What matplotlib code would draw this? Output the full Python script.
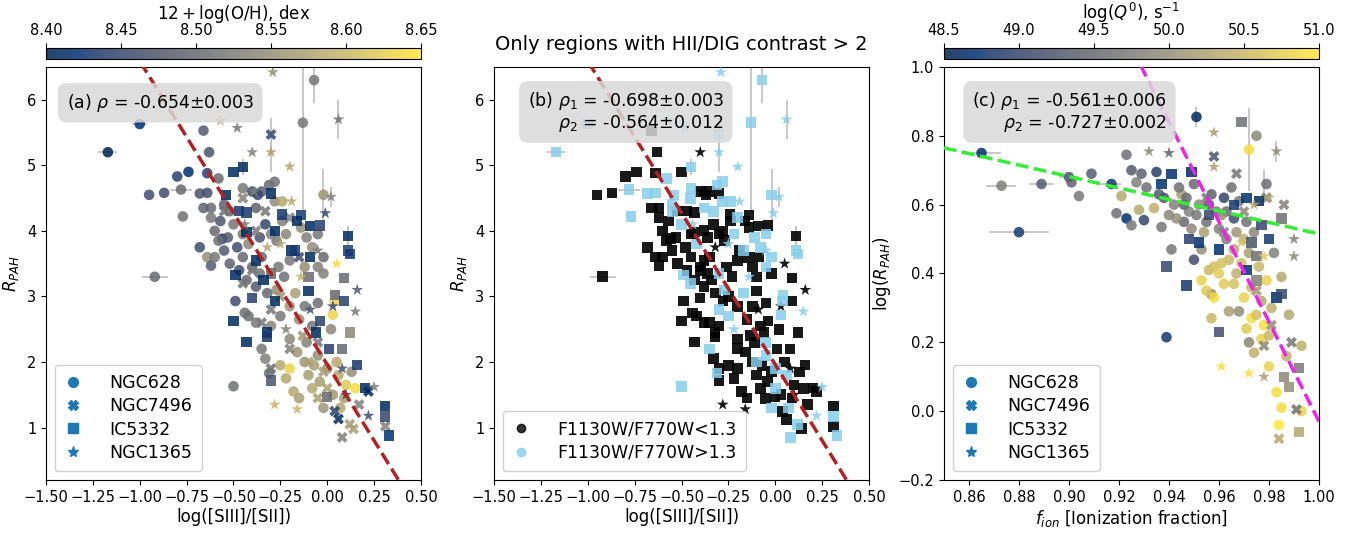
import numpy as np
import matplotlib
matplotlib.use("Agg")
import matplotlib.pyplot as plt
from matplotlib.lines import Line2D
from matplotlib.ticker import MultipleLocator

# ---------------- panel (a)/(b) data: log([SIII]/[SII]), R_PAH, 12+log(O/H), F1130W/F770W>1.3 flag
n628 = [(-1.17,5.20,8.40,1),(-1.00,5.63,8.42,1),(-0.92,3.30,8.50,0),(-0.95,4.55,8.46,0),
        (-0.87,4.58,8.46,0),(-0.80,4.83,8.44,0),(-0.74,4.90,8.42,0),(-0.78,4.63,8.50,1),
        (-0.77,4.22,8.51,1),(-0.66,5.53,8.48,0),(-0.63,5.20,8.47,0),(-0.64,4.88,8.44,0),
        (-0.68,4.57,8.47,1),(-0.64,4.58,8.46,1),(-0.62,4.35,8.50,0),(-0.66,4.35,8.49,0),
        (-0.62,4.20,8.52,0),(-0.58,4.80,8.50,1),(-0.60,4.00,8.50,0),(-0.56,3.88,8.43,0),
        (-0.68,3.75,8.46,0),(-0.64,3.60,8.55,0),(-0.62,3.47,8.48,0),(-0.60,3.60,8.52,0),
        (-0.55,3.70,8.48,0),(-0.50,1.63,8.51,1),(-0.49,2.93,8.46,0),(-0.31,1.83,8.51,1),
        (-0.07,6.30,8.52,1),(-0.13,5.65,8.52,1),(-0.02,4.55,8.56,1),(-0.55,4.40,8.49,1),
        (-0.52,4.30,8.50,0),(-0.57,4.15,8.47,0),(-0.50,4.10,8.52,1),(-0.53,3.90,8.48,0),
        (-0.48,3.75,8.46,0),(-0.45,3.95,8.52,0),(-0.42,3.80,8.54,1),(-0.45,3.60,8.50,0),
        (-0.40,3.45,8.51,0),(-0.35,3.60,8.50,0),(-0.36,3.90,8.47,0),(-0.33,4.10,8.45,0),
        (-0.38,4.35,8.49,1),(-0.35,4.60,8.48,0),(-0.31,4.70,8.50,1),(-0.28,4.45,8.55,1),
        (-0.24,4.45,8.58,1),(-0.27,3.85,8.52,0),(-0.22,3.95,8.54,1),(-0.20,3.55,8.52,0),
        (-0.23,3.30,8.51,0),(-0.27,3.10,8.55,1),(-0.32,3.05,8.50,0),(-0.38,3.15,8.48,0),
        (-0.43,3.25,8.50,0),(-0.47,3.40,8.46,0),(-0.44,2.75,8.51,0),(-0.38,2.60,8.52,0),
        (-0.35,2.20,8.52,1),(-0.33,2.05,8.53,0),(-0.42,2.70,8.51,0),(-0.25,2.70,8.52,1),
        (-0.20,2.85,8.56,0),(-0.17,3.05,8.57,1),(-0.15,2.65,8.55,0),(-0.20,2.35,8.54,0),
        (-0.25,1.95,8.58,0),(-0.22,1.75,8.58,0),(-0.18,1.55,8.58,0),(-0.20,1.90,8.63,0),
        (-0.12,2.00,8.56,0),(-0.10,1.80,8.57,0),(-0.08,1.60,8.58,0),(-0.05,2.10,8.55,1),
        (-0.04,1.70,8.57,0),(-0.11,2.30,8.53,0),(-0.08,2.55,8.52,0),(-0.12,2.85,8.52,0),
        (-0.05,2.90,8.51,0),(0.03,2.72,8.63,1),(0.04,2.93,8.63,1),(0.02,2.50,8.54,0),
        (0.05,2.00,8.58,0),(0.06,1.80,8.58,1),(0.10,1.65,8.62,0),(0.07,1.30,8.58,1),
        (0.03,1.50,8.56,0),(0.13,1.85,8.55,0),(0.15,1.60,8.64,0),(-0.02,1.30,8.56,1),
        (-0.15,1.45,8.57,0),(-0.02,3.35,8.53,0),(-0.05,3.45,8.53,1),(-0.08,3.75,8.55,1),
        (-0.11,3.90,8.53,1),(-0.14,4.05,8.55,0),(-0.05,3.95,8.52,1),(-0.02,3.60,8.50,1),
        (-0.12,3.45,8.55,0),(-0.45,4.65,8.52,1),(-0.40,4.60,8.46,0),(-0.28,4.75,8.51,1),
        (-0.37,4.55,8.45,0),(-0.24,4.15,8.53,0),(-0.30,3.95,8.53,0),(-0.26,3.45,8.52,0),
        (-0.36,3.35,8.51,0),(-0.30,2.55,8.54,0),(-0.16,2.15,8.56,0),(-0.07,1.95,8.57,0),
        (0.00,1.90,8.56,1),(0.09,1.45,8.57,0),(-0.52,3.50,8.49,0),(-0.58,3.85,8.51,0)]
n7496 = [(-0.30,5.47,8.45,1),(0.31,1.02,8.53,0),(0.06,1.13,8.41,0),(0.22,1.55,8.41,0),
         (0.14,0.98,8.57,0),(0.08,0.85,8.53,1),(0.12,1.05,8.57,1),(-0.05,1.45,8.57,0),
         (-0.02,1.85,8.57,0),(-0.20,2.20,8.53,0),(-0.35,2.60,8.52,0),(-0.30,2.80,8.52,1),
         (-0.40,3.40,8.52,0),(-0.45,3.20,8.51,1),(-0.25,3.00,8.56,0),(-0.13,2.40,8.56,0),
         (-0.10,2.00,8.57,1),(-0.33,4.30,8.52,1),(-0.38,4.00,8.52,0),(-0.55,4.30,8.51,1),
         (-0.45,4.50,8.53,1),(-0.30,1.90,8.51,0),(-0.05,2.30,8.52,1),(0.00,1.60,8.57,1),
         (0.17,1.35,8.53,0),(-0.15,3.60,8.46,0),(-0.20,4.20,8.53,1),(0.04,1.25,8.44,0)]
ic5332 = [(-0.45,4.97,8.41,1),(-0.50,4.90,8.41,0),(-0.54,4.55,8.41,1),(-0.30,4.57,8.41,0),
          (-0.47,4.30,8.43,0),(-0.43,4.28,8.43,0),(-0.24,4.25,8.43,0),(-0.14,4.24,8.43,0),
          (-0.16,4.15,8.41,0),(-0.09,4.07,8.41,0),(-0.04,4.08,8.44,0),(-0.28,4.00,8.41,0),
          (-0.43,3.98,8.41,0),(-0.19,3.70,8.41,0),(-0.17,3.70,8.43,1),(-0.09,3.60,8.41,0),
          (-0.38,3.55,8.41,0),(-0.30,3.35,8.50,1),(-0.49,3.33,8.41,1),(-0.10,3.30,8.50,0),
          (0.09,3.28,8.50,0),(-0.34,3.25,8.41,0),(-0.10,3.08,8.41,0),(0.04,3.02,8.50,1),
          (-0.40,2.98,8.44,0),(-0.28,2.93,8.41,0),(0.09,2.93,8.44,0),(-0.50,2.63,8.41,0),
          (-0.04,2.63,8.44,0),(-0.32,2.45,8.41,0),(-0.32,2.38,8.43,0),(-0.43,2.30,8.41,0),
          (-0.06,2.45,8.41,0),(0.01,2.20,8.44,0),(0.08,2.20,8.50,0),(0.12,2.45,8.54,0),
          (0.16,1.95,8.43,0),(-0.30,1.72,8.47,0),(0.00,1.47,8.50,0),(0.11,3.92,8.41,0),
          (0.11,3.70,8.44,1),(0.12,3.65,8.43,1),(0.31,1.33,8.41,0),(0.33,0.88,8.42,1),
          (0.20,1.60,8.41,0),(0.31,1.17,8.45,1)]
n1365 = [(-0.29,6.42,8.55,1),(-0.57,5.68,8.59,1),(-0.48,5.57,8.52,1),(-0.40,5.20,8.53,0),
         (-0.30,5.20,8.57,1),(-0.20,4.98,8.58,1),(-0.19,4.45,8.58,1),(0.02,4.52,8.53,1),
         (0.06,5.70,8.51,1),(-0.01,4.27,8.45,1),(0.16,3.10,8.48,0),(0.15,2.77,8.52,1),
         (0.05,3.50,8.64,0),(-0.28,1.35,8.60,0),(-0.16,1.28,8.60,0),(0.22,1.18,8.46,1),
         (0.08,1.90,8.46,0),(0.03,2.85,8.45,0),(-0.39,4.60,8.53,0),(-0.25,3.80,8.58,1),
         (-0.32,3.75,8.58,0),(-0.14,3.30,8.59,1),(-0.09,2.80,8.46,0),(-0.22,2.50,8.53,1),
         (0.25,1.62,8.53,1),(0.10,1.50,8.45,0),(-0.05,3.70,8.52,1),(-0.44,4.10,8.52,1)]

# error bars on a few regions: x, y, xerr, yerr
err_ab = [(-1.17,5.20,0.05,0.0),(-1.00,5.63,0.04,0.0),(-0.92,3.30,0.07,0.0),(-0.78,4.63,0.06,0.0),
          (-0.07,6.30,0.0,0.35),(-0.13,5.65,0.0,1.35),(-0.02,4.55,0.0,0.40),(0.06,5.70,0.0,0.30),
          (-0.30,5.20,0.0,0.30),(-0.30,5.47,0.0,0.25),(0.11,3.92,0.0,0.15),(0.02,4.52,0.0,0.15),
          (-0.45,4.97,0.0,0.12)]

# ---------------- panel (c) data: f_ion, log(R_PAH), log(Q0)
c628 = [(0.865,0.75,48.7),(0.873,0.655,49.8),(0.880,0.52,48.8),(0.889,0.66,49.3),(0.900,0.68,49.2),
        (0.901,0.665,49.4),(0.904,0.625,49.7),(0.909,0.69,49.3),(0.917,0.66,48.8),(0.919,0.575,49.6),
        (0.921,0.625,50.3),(0.923,0.745,49.6),(0.923,0.56,48.7),(0.925,0.54,49.7),(0.925,0.70,49.3),
        (0.927,0.665,49.8),(0.928,0.585,50.3),(0.929,0.69,49.4),(0.930,0.555,49.0),(0.931,0.65,49.6),
        (0.934,0.59,50.4),(0.935,0.695,48.9),(0.936,0.63,49.3),(0.937,0.535,49.7),(0.939,0.215,48.8),
        (0.942,0.60,49.8),(0.941,0.47,49.7),(0.945,0.63,50.2),(0.946,0.55,49.5),(0.948,0.58,49.8),
        (0.950,0.44,49.1),(0.951,0.855,48.6),(0.950,0.66,49.5),(0.953,0.38,50.8),(0.955,0.55,49.6),
        (0.956,0.41,50.5),(0.957,0.34,49.9),(0.958,0.33,50.9),(0.959,0.58,49.7),(0.957,0.27,50.5),
        (0.962,0.62,49.0),(0.963,0.50,49.8),(0.964,0.44,50.5),(0.965,0.65,49.6),(0.966,0.56,49.1),
        (0.967,0.40,50.4),(0.968,0.29,50.0),(0.970,0.50,50.4),(0.972,0.76,50.9),(0.972,0.20,49.9),
        (0.973,0.36,50.5),(0.973,0.27,50.9),(0.974,0.17,50.4),(0.975,0.80,49.9),(0.977,0.32,50.3),
        (0.978,0.25,50.9),(0.979,0.66,49.6),(0.979,0.38,50.8),(0.980,0.13,50.8),(0.981,0.30,50.4),
        (0.982,0.46,49.8),(0.983,0.055,50.9),(0.984,-0.04,51.0),(0.985,0.01,50.9),(0.985,0.39,50.3),
        (0.987,0.16,50.4),(0.988,0.28,50.3),(0.993,0.00,50.8),(0.993,0.19,50.4),(0.943,0.56,50.0),
        (0.947,0.62,49.5),(0.952,0.60,49.9),(0.954,0.52,50.2),(0.957,0.63,49.4),(0.960,0.53,49.8),
        (0.961,0.43,50.6),(0.963,0.58,49.5),(0.966,0.47,50.3),(0.968,0.61,49.7),(0.969,0.43,50.6),
        (0.971,0.55,49.6),(0.972,0.46,50.2),(0.974,0.52,49.9),(0.976,0.42,50.5),(0.958,0.42,50.6),
        (0.955,0.35,50.7),(0.962,0.37,50.7),(0.970,0.33,50.8),(0.975,0.28,50.6),(0.977,0.21,50.8),
        (0.964,0.29,50.2),(0.953,0.47,50.0),(0.949,0.53,49.9),(0.944,0.65,49.6),(0.938,0.62,49.2),
        (0.940,0.57,49.9),(0.946,0.60,49.4),(0.951,0.57,49.7),(0.956,0.60,49.3),(0.961,0.57,50.0),
        (0.967,0.52,50.1),(0.960,0.40,50.7),(0.966,0.37,50.6),(0.971,0.24,50.7),(0.980,0.22,50.5)]
c7496 = [(0.958,0.74,49.2),(0.967,0.69,49.7),(0.978,0.19,49.9),(0.984,-0.08,50.3),(0.986,0.60,49.8),
         (0.989,0.20,49.7),(0.991,0.005,49.6),(0.962,0.52,49.8),(0.970,0.58,49.9),(0.975,0.35,50.1),
         (0.981,0.25,50.0),(0.955,0.62,49.7),(0.979,0.62,49.7)]
c5332 = [(0.937,0.66,48.7),(0.939,0.42,49.0),(0.941,0.69,48.7),(0.948,0.50,48.9),(0.947,0.365,48.8),
         (0.949,0.695,48.6),(0.952,0.49,48.7),(0.960,0.47,48.7),(0.960,0.23,49.1),(0.969,0.84,49.6),
         (0.971,0.41,48.7),(0.971,0.62,48.7),(0.975,0.45,49.6),(0.975,0.38,49.8),(0.976,0.61,48.6),
         (0.977,0.54,49.0),(0.980,0.50,48.8),(0.983,0.33,48.7),(0.985,0.56,49.6),(0.985,0.34,49.0),
         (0.986,0.10,49.9),(0.988,0.07,50.0),(0.992,0.125,49.7),(0.992,-0.06,50.3),(0.956,0.57,49.0),
         (0.966,0.60,48.8),(0.973,0.49,49.2)]
c1365 = [(0.932,0.755,49.9),(0.940,0.75,49.4),(0.958,0.81,50.2),(0.958,0.71,50.2),(0.961,0.13,50.9),
         (0.972,0.11,50.9),(0.983,0.755,49.9),(0.990,0.45,49.9),(0.990,0.50,49.8),(0.974,0.60,50.3),
         (0.969,0.49,50.6),(0.978,0.45,50.7),(0.980,0.62,50.3),(0.978,0.10,50.2)]

err_c = [(0.865,0.75,0.008,0.0),(0.873,0.655,0.006,0.0),(0.880,0.52,0.012,0.0),(0.889,0.66,0.005,0.0),
         (0.900,0.68,0.004,0.0),(0.917,0.66,0.004,0.0),(0.972,0.76,0.0,0.12),(0.951,0.855,0.0,0.03),
         (0.983,0.755,0.0,0.03),(0.978,0.66,0.0,0.04)]

galaxies = ["NGC628", "NGC7496", "IC5332", "NGC1365"]
markers = ["o", "X", "s", "*"]
markers_b = ["s", "s", "s", "*"]
sizes = [58, 62, 55, 80]

# fitted lines (slope, intercept)
fit_ab = (-4.63, 1.96)
fit_c1 = (-1.667, 2.182)
fit_c2 = (-14.5, 14.47)

fig = plt.figure(figsize=(13.61, 5.38), dpi=100)
ax_a = fig.add_axes([0.0338, 0.1078, 0.2755, 0.7677])
ax_b = fig.add_axes([0.3630, 0.1078, 0.2755, 0.7677])
ax_c = fig.add_axes([0.6936, 0.1078, 0.2755, 0.7677])
cax_a = fig.add_axes([0.0338, 0.8903, 0.2755, 0.0204])
cax_c = fig.add_axes([0.6936, 0.8903, 0.2755, 0.0204])

cmap = plt.get_cmap("cividis")
err_style = dict(fmt="none", ecolor="#c4c4c4", elinewidth=1.3, zorder=1)
box = dict(boxstyle="round,pad=0.5", facecolor="#d9d9d9", edgecolor="none", alpha=0.85)
leg_style = dict(loc="lower left", fontsize=12.5, handlelength=1.0, handletextpad=1.6,
                 borderpad=0.55, labelspacing=0.3, framealpha=0.9)

# ---- (a)
for ax in (ax_a, ax_b):
    e = np.array(err_ab)
    ax.errorbar(e[:, 0], e[:, 1], xerr=e[:, 2], yerr=e[:, 3], **err_style)

for data, m, s in zip([n628, n7496, ic5332, n1365], markers, sizes):
    d = np.array(data)
    sc = ax_a.scatter(d[:, 0], d[:, 1], c=d[:, 2], cmap=cmap, vmin=8.40, vmax=8.65,
                      marker=m, s=s, alpha=0.85, edgecolors="none", zorder=2)

# ---- (b)
for data, m, s in zip([n628, n7496, ic5332, n1365], markers_b, sizes):
    d = np.array(data)
    lo = d[:, 3] == 0
    ax_b.scatter(d[lo, 0], d[lo, 1], color="black", marker=m, s=s, alpha=0.9,
                 edgecolors="none", zorder=2)
    ax_b.scatter(d[~lo, 0], d[~lo, 1], color="skyblue", marker=m, s=s, alpha=0.85,
                 edgecolors="none", zorder=3)

xx = np.array([-1.5, 0.5])
for ax in (ax_a, ax_b):
    ax.plot(xx, fit_ab[0] * xx + fit_ab[1], ls="--", color="#b22222", lw=2.5, zorder=4)
    ax.set_xlim(-1.5, 0.5)
    ax.set_ylim(0.2, 6.5)
    ax.xaxis.set_major_locator(MultipleLocator(0.25))
    ax.yaxis.set_major_locator(MultipleLocator(1))
    ax.set_xlabel("log([SIII]/[SII])", fontsize=12, labelpad=2)
    ax.set_ylabel("$R_{PAH}$", fontsize=12, labelpad=4)
    ax.tick_params(labelsize=10.5)

ax_a.text(0.055, 0.94, r"(a) $\rho$ = -0.654$\pm$0.003", transform=ax_a.transAxes,
          fontsize=12.5, va="top", bbox=box, zorder=6)
ax_b.text(0.09, 0.945, "(b) $\\rho_1$ = -0.698$\\pm$0.003\n$\\rho_2$ = -0.564$\\pm$0.012",
          transform=ax_b.transAxes, fontsize=12.5, va="top", multialignment="right",
          bbox=box, zorder=6, linespacing=1.1)
ax_b.set_title("Only regions with HII/DIG contrast > 2", fontsize=14, pad=12)

gal_handles = [Line2D([], [], ls="none", marker=m, color="#1f77b4", markersize=7 if m != "*" else 8)
               for m in markers]
ax_a.legend(gal_handles, galaxies, **leg_style)
b_handles = [Line2D([], [], ls="none", marker="o", color="black", alpha=0.8, markersize=6),
             Line2D([], [], ls="none", marker="o", color="skyblue", alpha=0.8, markersize=6)]
ax_b.legend(b_handles, ["F1130W/F770W<1.3", "F1130W/F770W>1.3"], **leg_style)

cb_a = fig.colorbar(sc, cax=cax_a, orientation="horizontal")
cb_a.set_ticks([8.40, 8.45, 8.50, 8.55, 8.60, 8.65])
cb_a.ax.xaxis.set_major_formatter(matplotlib.ticker.FormatStrFormatter("%.2f"))
cb_a.ax.xaxis.set_ticks_position("top")
cb_a.ax.xaxis.set_label_position("top")
cb_a.set_label(r"$12+\log({\rm O/H})$, dex", fontsize=12, labelpad=3)
cb_a.ax.tick_params(labelsize=10.5)

# ---- (c)
e = np.array(err_c)
ax_c.errorbar(e[:, 0], e[:, 1], xerr=e[:, 2], yerr=e[:, 3], **err_style)
for data, m, s in zip([c628, c7496, c5332, c1365], markers, sizes):
    d = np.array(data)
    sc_c = ax_c.scatter(d[:, 0], d[:, 1], c=d[:, 2], cmap=cmap, vmin=48.5, vmax=51.0,
                        marker=m, s=s, alpha=0.85, edgecolors="none", zorder=2)

fx = np.array([0.85, 1.0])
ax_c.plot(fx, fit_c1[0] * fx + fit_c1[1], ls="--", color="#33ee33", lw=2.5, zorder=4)
ax_c.plot(fx, fit_c2[0] * fx + fit_c2[1], ls="--", color="#ee22ee", lw=2.5, zorder=4)
ax_c.set_xlim(0.85, 1.0)
ax_c.set_ylim(-0.2, 1.0)
ax_c.xaxis.set_major_locator(MultipleLocator(0.02))
ax_c.yaxis.set_major_locator(MultipleLocator(0.2))
ax_c.set_xlabel("$f_{ion}$ [Ionization fraction]", fontsize=12, labelpad=2)
ax_c.set_ylabel("log($R_{PAH}$)", fontsize=12, labelpad=4)
ax_c.tick_params(labelsize=10.5)
ax_c.text(0.075, 0.945, "(c) $\\rho_1$ = -0.561$\\pm$0.006\n$\\rho_2$ = -0.727$\\pm$0.002",
          transform=ax_c.transAxes, fontsize=12.5, va="top", multialignment="right",
          bbox=box, zorder=6, linespacing=1.1)
ax_c.legend(gal_handles, galaxies, **leg_style)

cb_c = fig.colorbar(sc_c, cax=cax_c, orientation="horizontal")
cb_c.set_ticks([48.5, 49.0, 49.5, 50.0, 50.5, 51.0])
cb_c.ax.xaxis.set_major_formatter(matplotlib.ticker.FormatStrFormatter("%.1f"))
cb_c.ax.xaxis.set_ticks_position("top")
cb_c.ax.xaxis.set_label_position("top")
cb_c.set_label("log($Q^0$), s$^{-1}$", fontsize=12, labelpad=3)
cb_c.ax.tick_params(labelsize=10.5)

fig.savefig("out.png", dpi=100)
